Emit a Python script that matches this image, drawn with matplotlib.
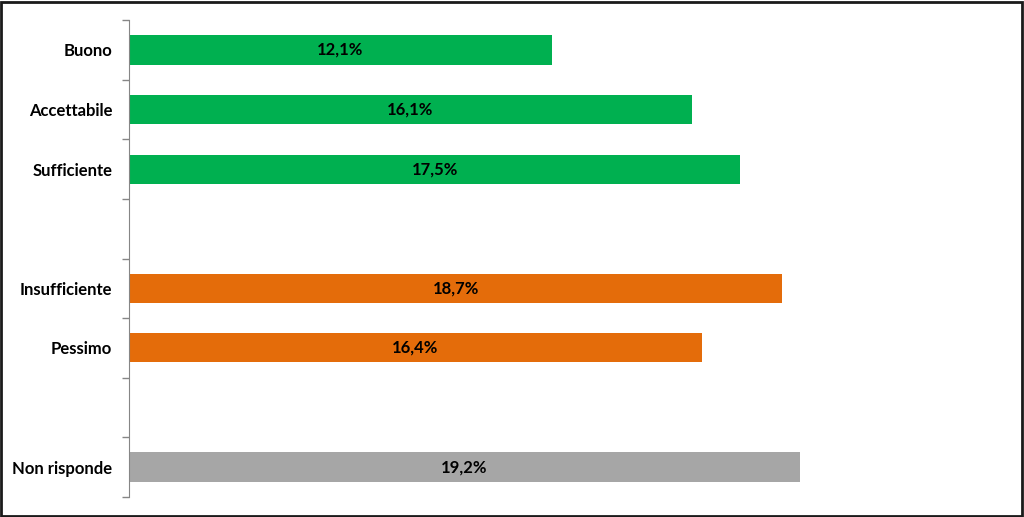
import matplotlib
matplotlib.use('Agg')
import matplotlib.pyplot as plt
import numpy as np

plt.rcParams['font.family'] = ['Lato', 'DejaVu Sans']

categorie = ['Buono', 'Accettabile', 'Sufficiente', '', 'Insufficiente', 'Pessimo', '', 'Non risponde']
valori = [12.1, 16.1, 17.5, None, 18.7, 16.4, None, 19.2]
colori = ['#00B050', '#00B050', '#00B050', None, '#E46C0A', '#E46C0A', None, '#A6A6A6']

fig = plt.figure(figsize=(10.24, 5.17), dpi=100)
ax = fig.add_axes([0.126, 0.039, 0.853, 0.922])

pos = np.arange(len(categorie))
for p, v, c in zip(pos, valori, colori):
    if v is None:
        continue
    ax.barh(p, v, height=0.49, color=c)
    ax.text(v / 2, p, ('%.1f%%' % v).replace('.', ','), ha='center', va='center',
            fontsize=12, fontweight='bold', color='black')

ax.set_xlim(0, 25)
ax.set_ylim(len(categorie) - 0.5, -0.5)
ax.set_yticks(pos)
ax.set_yticklabels(categorie, fontsize=12, fontweight='bold')
ax.tick_params(axis='y', which='major', length=0, pad=12)
ax.set_yticks(np.arange(len(categorie) + 1) - 0.5, minor=True)
ax.tick_params(axis='y', which='minor', length=5, color='#868686', width=1)
ax.set_xticks([])
for s in ['top', 'right', 'bottom']:
    ax.spines[s].set_visible(False)
ax.spines['left'].set_color('#868686')

fig.patches.append(plt.Rectangle((0.001, 0.002), 0.997, 0.995, transform=fig.transFigure,
                                 fill=False, edgecolor='#1a1a1a', linewidth=2))

fig.savefig('out.png', dpi=100)
